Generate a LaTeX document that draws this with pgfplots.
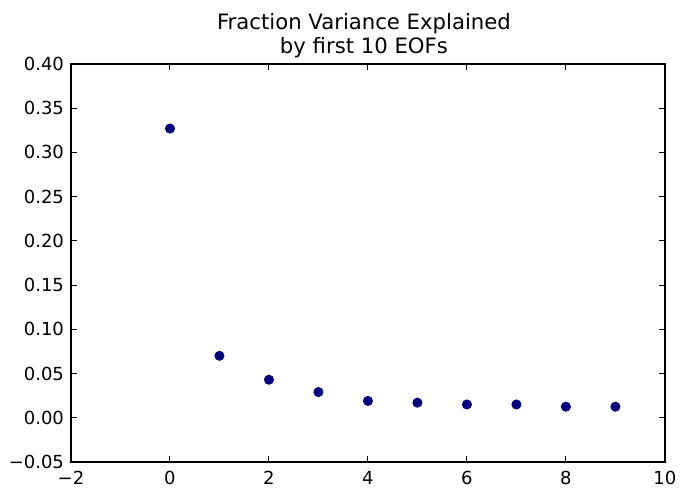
\documentclass[border=0pt]{standalone}
\usepackage{pgfplots}
\pgfplotsset{compat=1.18}
\usepackage{fontspec}
\setmainfont{DejaVu Sans}
\definecolor{navyjet}{rgb}{0,0,0.5}
\begin{document}
\begin{tikzpicture}
\begin{axis}[
  name=ax,
  scale only axis,
  width=297bp, height=199bp,
  xmin=-2, xmax=10, ymin=-0.05, ymax=0.40,
  xtick={-2,0,2,4,6,8,10},
  xticklabels={−2,0,2,4,6,8,10},
  ytick={-0.05,0,0.05,0.10,0.15,0.20,0.25,0.30,0.35,0.40},
  yticklabels={−0.05,0.00,0.05,0.10,0.15,0.20,0.25,0.30,0.35,0.40},
  tick align=inside,
  major tick length=3bp,
  tick style={black, line width=0.5bp},
  axis line style={black, line width=0.6bp},
  ticklabel style={font=\fontsize{9bp}{11bp}\selectfont},
  xticklabel style={yshift=-1bp},
  title={Fraction Variance Explained\\by first 10 EOFs},
  title style={font=\fontsize{10.6bp}{12bp}\selectfont, align=center,
    at={(0.5,1)}, anchor=south, inner sep=0pt, yshift=-3bp, xshift=-2bp},
  clip=false,
]
\addplot[only marks, mark=*, mark size=2.3bp, navyjet, mark options={draw=navyjet, fill=navyjet}]
  coordinates {(0,0.327) (1,0.070) (2,0.043) (3,0.029) (4,0.019) (5,0.017) (6,0.015) (7,0.015) (8,0.0125) (9,0.0125)};
\end{axis}
\useasboundingbox ([xshift=-35.5bp, yshift=-13bp]ax.south west) rectangle ([xshift=9bp, yshift=32bp]ax.north east);
\end{tikzpicture}
\end{document}
